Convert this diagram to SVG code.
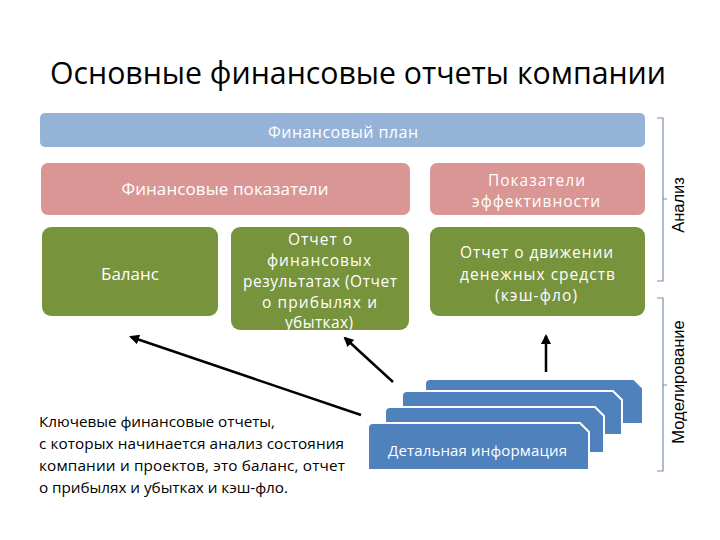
<svg xmlns="http://www.w3.org/2000/svg" width="720" height="540" viewBox="0 0 720 540">
<defs>
<style>
text{font-family:"Open Sans","Liberation Sans","DejaVu Sans",sans-serif;}
.title{font-size:31px;fill:#000;}
.lbl{font-size:16px;fill:#fff;text-anchor:middle;}
.ml{font-size:15.5px;}
.body{font-size:15.3px;fill:#000;}
.side{font-family:"Liberation Sans",Arial,sans-serif;font-size:16.5px;fill:#000;text-anchor:middle;}
.plan{fill:#95B3D7;}
.kpi{fill:#D99694;}
.rep{fill:#77933C;}
.stk{fill:#4F81BD;stroke:#fff;stroke-width:2;}
.brace{fill:none;stroke:#7A8FAD;stroke-width:1.2;}
.conn{stroke:#000;stroke-width:2.5;fill:none;marker-end:url(#ah);}
</style>
<marker id="ah" viewBox="0 0 10 10" refX="8" refY="5" markerWidth="4" markerHeight="4" orient="auto" markerUnits="strokeWidth">
<path d="M0,0 L10,5 L0,10 Z" fill="#000"/>
</marker>
</defs>
<rect width="720" height="540" fill="#fff"/>
<text class="title" x="358" y="84" text-anchor="middle" textLength="616" lengthAdjust="spacingAndGlyphs">Основные финансовые отчеты компании</text>

<g id="plan">
<rect class="plan" x="40" y="113" width="605" height="34" rx="5"/>
<text class="lbl" x="343" y="138" textLength="150">Финансовый план</text>
</g>
<g id="fin-indicators">
<rect class="kpi" x="41" y="163" width="369" height="52" rx="7"/>
<text class="lbl" x="225" y="195" textLength="207" style="font-size:17px">Финансовые показатели</text>
</g>
<g id="eff-indicators">
<rect class="kpi" x="430" y="163" width="215" height="52" rx="7"/>
<text class="lbl ml" x="536.5" y="186" textLength="97">Показатели</text>
<text class="lbl ml" x="536" y="207" textLength="128">эффективности</text>
</g>
<g id="balance">
<rect class="rep" x="42" y="227" width="176" height="89" rx="9"/>
<text class="lbl" x="130" y="280" textLength="58" style="font-size:17px">Баланс</text>
</g>
<g id="pnl">
<rect class="rep" x="231" y="227" width="178" height="103" rx="9"/>
<text class="lbl ml" x="320" y="245" textLength="64">Отчет о</text>
<text class="lbl ml" x="319" y="266" textLength="104">финансовых</text>
<text class="lbl ml" x="320" y="287" textLength="154">результатах (Отчет</text>
<text class="lbl ml" x="319.5" y="308" textLength="115">о прибылях и</text>
<text class="lbl ml" x="319" y="328" textLength="68">убытках)</text>
</g>
<g id="cashflow">
<rect class="rep" x="430" y="227" width="215" height="89" rx="9"/>
<text class="lbl ml" x="536.5" y="258" textLength="153">Отчет о движении</text>
<text class="lbl ml" x="537.5" y="280" textLength="155">денежных средств</text>
<text class="lbl ml" x="536" y="301" textLength="82">(кэш-фло)</text>
</g>

<g id="detail">
<path class="stk" d="M425,424 V384 Q425,379 430,379 H634 L643,388 V424 Z"/>
<path class="stk" d="M402,435 V396 Q402,391 407,391 H613 L622,400 V435 Z"/>
<path class="stk" d="M385,453 V412 Q385,407 390,407 H595 L604,416 V453 Z"/>
<path class="stk" d="M368,470 V428 Q368,423 373,423 H580 L589,432 V470 Z"/>
<text class="lbl" x="477.5" y="456" textLength="179" style="font-size:15px">Детальная информация</text>
</g>

<g id="connectors">
<line class="conn" x1="361" y1="415" x2="131" y2="337"/>
<line class="conn" x1="393" y1="382" x2="345" y2="338"/>
<line class="conn" x1="546" y1="372" x2="546" y2="336"/>
</g>

<g id="analysis-brace">
<path class="brace" d="M657,118 H663 V281 H657 M663,199 H667"/>
<text class="side" transform="translate(684,205) rotate(-90)">Анализ</text>
</g>
<g id="modeling-brace">
<path class="brace" d="M657,298 H663 V471 H657 M663,385 H667"/>
<text class="side" transform="translate(684,382) rotate(-90)">Моделирование</text>
</g>

<g id="note">
<text class="body" x="39" y="427" textLength="236">Ключевые финансовые отчеты,</text>
<text class="body" x="39" y="449" textLength="305">с которых начинается анализ состояния</text>
<text class="body" x="39" y="471" textLength="306">компании и проектов, это баланс, отчет</text>
<text class="body" x="39" y="493" textLength="249">о прибылях и убытках и кэш-фло.</text>
</g>
</svg>
